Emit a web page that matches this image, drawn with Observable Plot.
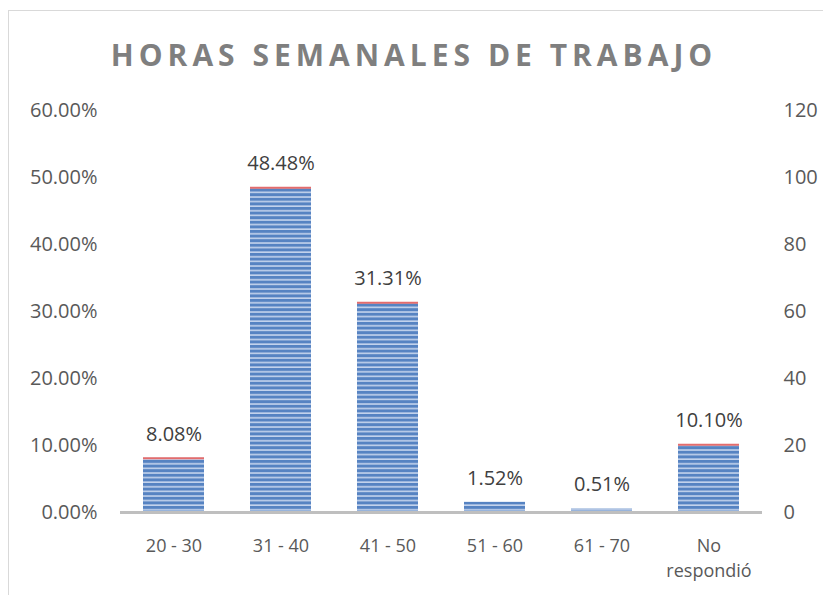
<!DOCTYPE html>
<html>
<head>
<meta charset="utf-8">
<script src="https://cdn.jsdelivr.net/npm/d3@7"></script>
<script src="https://cdn.jsdelivr.net/npm/@observablehq/plot@0.6"></script>
<style>
  html, body { margin: 0; padding: 0; background: #fff; }
  #wrap { position: relative; width: 823px; height: 595px; overflow: hidden; font-family: "Open Sans", "Liberation Sans", sans-serif; }
  #frame { position: absolute; left: 8px; top: 10px; width: 900px; height: 700px; border: 1.5px solid #d9d9d9; box-sizing: border-box; }
  #title { position: absolute; left: 0; top: 35px; width: 823px; text-align: center; font-size: 30px; line-height: 40px; font-weight: bold; color: #7f7f7f; letter-spacing: 5px; text-indent: 5px; }
  #chart { position: absolute; left: 0; top: 0; }
</style>
</head>
<body>
<div id="wrap">
  <div id="frame"></div>
  <div id="title">HORAS SEMANALES DE TRABAJO</div>
  <div id="chart"></div>
</div>
<script>
const categories = ["20 - 30", "31 - 40", "41 - 50", "51 - 60", "61 - 70", "No\nrespondió"];
const percentages = [0.0808, 0.4848, 0.3131, 0.0152, 0.0051, 0.1010];
const leftTicks = [0, 0.1, 0.2, 0.3, 0.4, 0.5, 0.6];
const rightTicks = [0, 20, 40, 60, 80, 100, 120];
const rightMax = 120;
const leftMax = 0.6;

const data = categories.map((c, i) => ({cat: c, pct: percentages[i]}));

const plot = Plot.plot({
  width: 823,
  height: 595,
  marginLeft: 120,
  marginRight: 61,
  marginTop: 110,
  marginBottom: 83,
  style: {fontFamily: "'Open Sans', 'Liberation Sans', sans-serif", fontSize: "20px", color: "#595959", background: "transparent"},
  x: {domain: categories, paddingInner: 0.43, paddingOuter: 0.215, label: null},
  y: {domain: [0, leftMax], label: null},
  marks: [
    Plot.axisY(leftTicks, {anchor: "left", tickSize: 0, tickPadding: 23, tickFormat: d => (d * 100).toFixed(2) + "%", fill: "#595959", fontSize: 20, label: null}),
    Plot.axisY(rightTicks.map(v => v / rightMax * leftMax), {anchor: "right", tickSize: 0, tickPadding: 21, tickFormat: d => String(Math.round(d / leftMax * rightMax)), fill: "#595959", fontSize: 20, label: null}),
    Plot.axisX({tickSize: 0, tickPadding: 22, fill: "#595959", fontSize: 18, label: null, lineHeight: 1.38}),
    Plot.barY(data, {x: "cat", y: "pct", fill: "url(#stripes)"}),
    Plot.tickY(data.filter(d => d.pct > 0.02), {x: "cat", y: "pct", stroke: "#e46c6c", strokeWidth: 2}),
    Plot.ruleY([0], {stroke: "#bfbfbf", strokeWidth: 3}),
    Plot.text(data, {x: "cat", y: "pct", text: d => (d.pct * 100).toFixed(2) + "%", dy: -24, fill: "#404040", fontSize: 20})
  ]
});

const defs = document.createElementNS("http://www.w3.org/2000/svg", "defs");
defs.innerHTML = `
  <pattern id="stripes" patternUnits="userSpaceOnUse" width="8" height="4.6">
    <rect x="0" y="0" width="8" height="4.6" fill="#5683c2"/>
    <rect x="0" y="3" width="8" height="1.6" fill="#c3d3ec"/>
  </pattern>`;
plot.insertBefore(defs, plot.firstChild);
document.getElementById("chart").appendChild(plot);
</script>
</body>
</html>
